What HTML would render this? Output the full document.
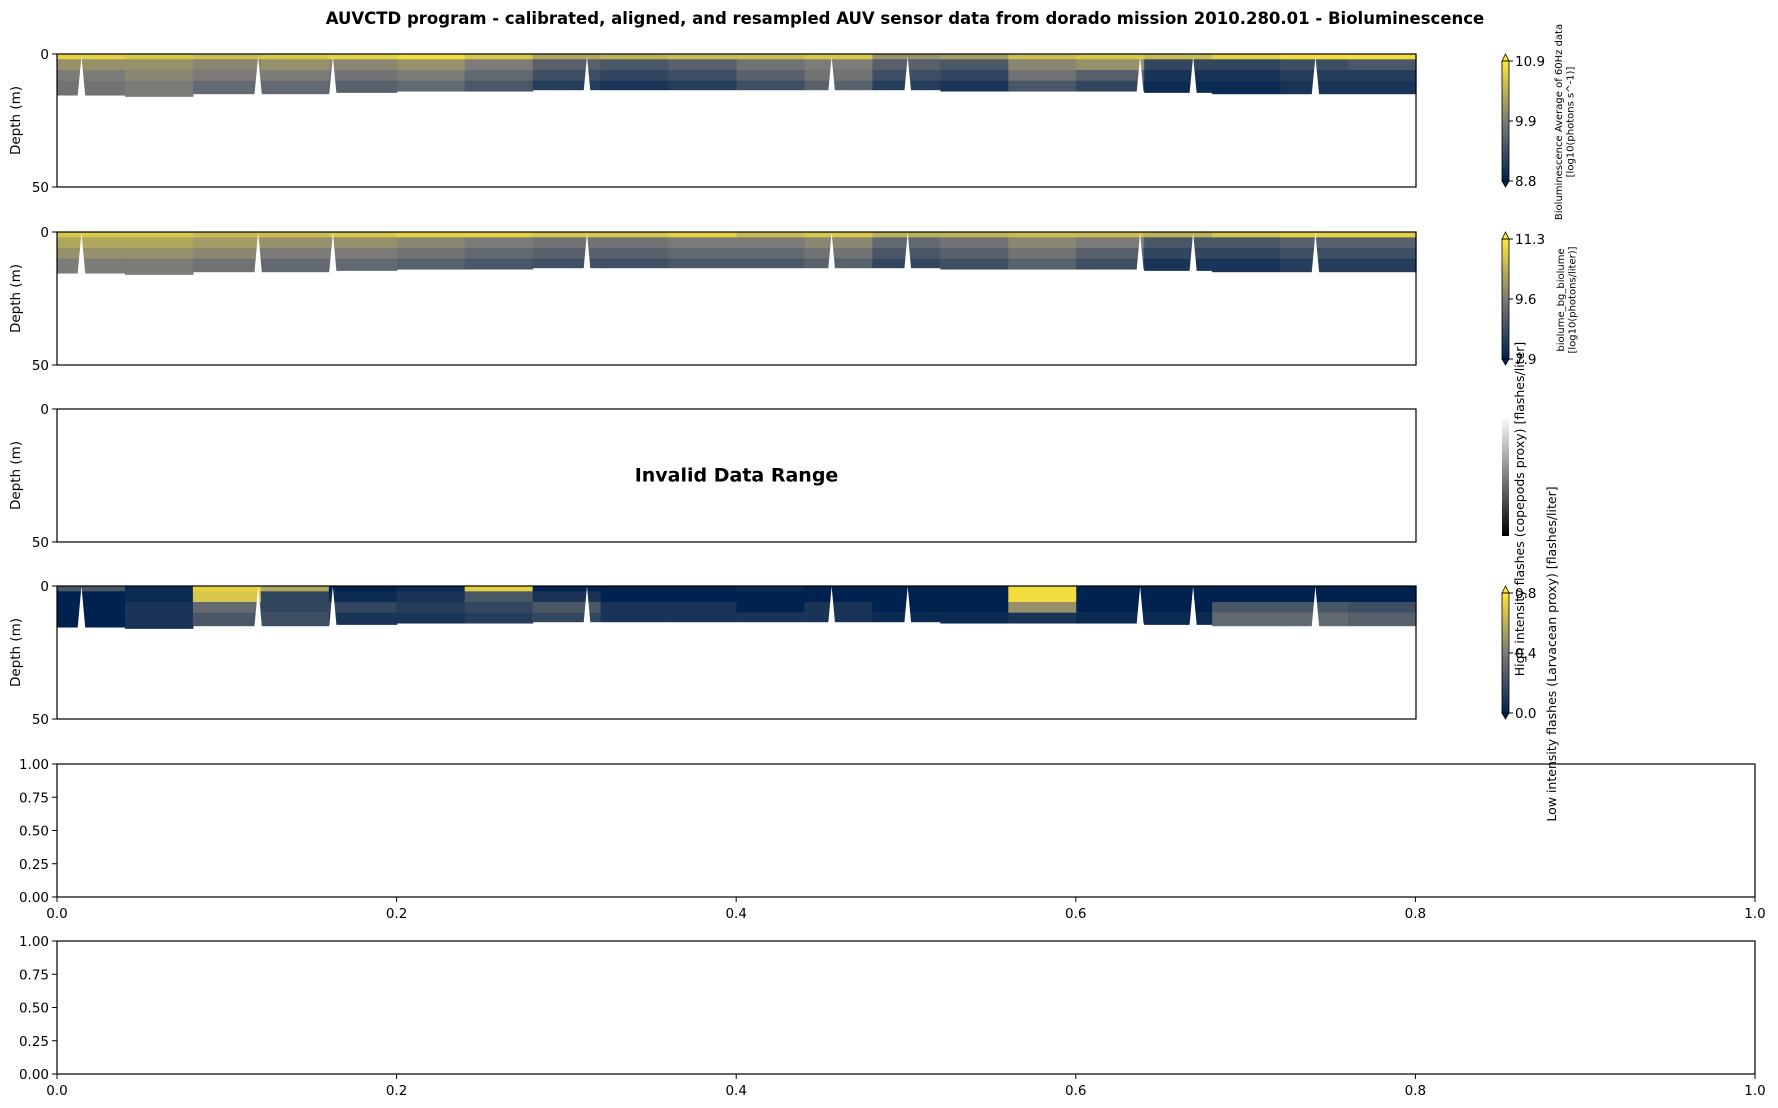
<!DOCTYPE html>
<html><head><meta charset="utf-8"><style>
body{margin:0;background:#fff}
svg{display:block;font-family:"DejaVu Sans","Liberation Sans",sans-serif}
</style></head><body>
<svg id="fig" width="1778" height="1108" viewBox="0 0 1778 1108" xmlns="http://www.w3.org/2000/svg">
<defs>
<linearGradient id="civ" x1="0" y1="1" x2="0" y2="0"><stop offset="0" stop-color="#00224e"/><stop offset="0.5" stop-color="#7c7b78"/><stop offset="1" stop-color="#fee838"/></linearGradient>
<linearGradient id="gry" x1="0" y1="1" x2="0" y2="0"><stop offset="0" stop-color="#000"/><stop offset="1" stop-color="#fff"/></linearGradient>
</defs>
<text x="905" y="24" text-anchor="middle" font-size="16.5" font-weight="bold">AUVCTD program - calibrated, aligned, and resampled AUV sensor data from dorado mission 2010.280.01 - Bioluminescence</text>
<g id="plots"></g>
</svg>
<script>
// column fractions along the section (20 columns) and depth layer boundaries (m)
const layerTops = [0, 2, 6, 10];
const bottomDepth = [15.5,16,15,15,14.5,14,14,13.5,13.5,13.5,13.5,13.5,13.5,14,14,14,14.5,15,15,15];
const spikes = [0.018,0.148,0.203,0.390,0.570,0.626,0.797,0.836,0.926];
// panel 1: bioluminescence avg (normalized 0..1 of colour range), rows top→bottom
const p1r0=[0.9,0.85,0.8,0.85,0.9,0.95,0.85,0.7,0.75,0.8,0.8,0.85,0.6,0.65,0.8,0.85,0.8,0.9,0.95,0.95];
const p1r1=[0.6,0.6,0.55,0.6,0.55,0.6,0.5,0.35,0.3,0.35,0.45,0.5,0.35,0.3,0.55,0.6,0.2,0.2,0.25,0.3];
const p1r2=[0.5,0.55,0.5,0.5,0.45,0.5,0.4,0.25,0.2,0.25,0.35,0.45,0.25,0.2,0.45,0.35,0.1,0.1,0.15,0.15];
const p1r3=[0.45,0.5,0.4,0.4,0.35,0.4,0.3,0.15,0.1,0.15,0.25,0.35,0.15,0.1,0.3,0.2,0.05,0.05,0.1,0.1];
// panel 2: biolume_bg
const p2r0=[0.85,0.85,0.8,0.8,0.85,0.9,0.9,0.85,0.85,0.9,0.8,0.85,0.75,0.75,0.8,0.8,0.75,0.85,0.9,0.9];
const p2r1=[0.7,0.7,0.65,0.6,0.6,0.55,0.5,0.45,0.45,0.5,0.5,0.55,0.4,0.45,0.55,0.5,0.3,0.3,0.35,0.35];
const p2r2=[0.6,0.6,0.55,0.5,0.5,0.45,0.4,0.35,0.35,0.4,0.4,0.45,0.3,0.35,0.45,0.35,0.2,0.2,0.25,0.25];
const p2r3=[0.5,0.5,0.45,0.4,0.4,0.35,0.3,0.25,0.25,0.3,0.3,0.35,0.2,0.25,0.35,0.25,0.1,0.1,0.15,0.15];
// panel 4: low intensity flashes
const p4r0=[0.3,0.05,0.9,0.7,0.0,0.05,0.9,0.0,0.0,0.0,0.05,0.0,0.0,0.0,0.95,0.0,0.0,0.0,0.0,0.0];
const p4r1=[0.0,0.05,0.85,0.2,0.05,0.1,0.3,0.1,0.0,0.0,0.0,0.0,0.0,0.0,0.95,0.0,0.0,0.0,0.0,0.0];
const p4r2=[0.0,0.1,0.4,0.2,0.2,0.15,0.2,0.3,0.1,0.1,0.0,0.1,0.0,0.0,0.6,0.0,0.0,0.3,0.3,0.25];
const p4r3=[0.0,0.1,0.3,0.25,0.1,0.1,0.15,0.2,0.1,0.1,0.1,0.1,0.05,0.05,0.1,0.05,0.05,0.4,0.4,0.35];
const depthTicks=[0,50];
const cb1Ticks=["10.9","9.9","8.8"], cb2Ticks=["11.3","9.6","7.9"], cb4Ticks=["0.8","0.4","0.0"];
const fracTicks=["0.0","0.2","0.4","0.6","0.8","1.0"];
const yFracTicks=["1.00","0.75","0.50","0.25","0.00"];

const NS="http://www.w3.org/2000/svg";
const G=document.getElementById('plots');
function mk(tag,attrs,parent,txt){const e=document.createElementNS(NS,tag);for(const k in attrs)e.setAttribute(k,attrs[k]);if(txt!==undefined)e.textContent=txt;(parent||G).appendChild(e);return e;}
function civ(t){t=Math.max(0,Math.min(1,t));const a=[0,34,78],b=[124,123,120],c=[254,232,56];let p,q,u;if(t<0.5){p=a;q=b;u=t*2}else{p=b;q=c;u=(t-0.5)*2}return `rgb(${p.map((v,i)=>Math.round(v+(q[i]-v)*u)).join(',')})`;}

const AX0=57, AX1=1416, FULLX1=1755;
const tops=[54,232,409,586,764,941], H=133;

function depthPanel(idx,rows,name){
  const top=tops[idx];
  const xs=f=>AX0+f*(AX1-AX0);
  const ys=d=>top+d/50*H;
  const g=mk('g',{},G);
  
  
  if(rows){
    const n=rows[0].length;
    for(let c=0;c<n;c++){
      for(let r=0;r<rows.length;r++){
        const d0=layerTops[r], d1=r<rows.length-1?layerTops[r+1]:bottomDepth[c];
        const rc=mk('rect',{x:xs(c/n),y:ys(d0),width:xs((c+1)/n)-xs(c/n)+0.6,height:ys(d1)-ys(d0)+0.3,fill:civ(rows[r][c])},g);
        
        
      }
    }
    spikes.forEach(f=>{const x=xs(f);const sp=mk('polygon',{points:`${x-4},${ys(16.5)} ${x},${ys(idx==0?1:0.2)} ${x+4},${ys(16.5)}`,fill:'#fff'},g);
      
      });
  }
  const fr=mk('rect',{x:AX0,y:top,width:AX1-AX0,height:H,fill:'none',stroke:'#000','stroke-width':1.2},g);
  
  
  depthTicks.forEach(d=>{const y=ys(d);mk('line',{x1:AX0-5,x2:AX0,y1:y,y2:y,stroke:'#000'},g);
    const t=mk('text',{x:AX0-8,y:y+5,'text-anchor':'end','font-size':13.5},g,String(d));
    
    });
  const yl=mk('text',{x:0,y:0,transform:`translate(20,${top+H/2}) rotate(-90)`,'text-anchor':'middle','font-size':13.5},g,'Depth (m)');
  
  
  return g;
}
function colorbar(idx,ticks,grad,arrows,name){
  const top=tops[idx];const y0=top+7,y1=top+H-6;const x0=1502,w=7;
  const g=mk('g',{},G);
  
  
  mk('rect',{x:x0,y:y0,width:w,height:y1-y0,fill:`url(#${grad})`},g);
  if(arrows){
    mk('polygon',{points:`${x0},${y0} ${x0+w/2},${top} ${x0+w},${y0}`,fill:'#fee838',stroke:'#000','stroke-width':0.8},g);
    mk('polygon',{points:`${x0},${y1} ${x0+w/2},${top+H} ${x0+w},${y1}`,fill:'#00224e',stroke:'#000','stroke-width':0.8},g);
    mk('rect',{x:x0,y:y0,width:w,height:y1-y0,fill:'none',stroke:'#000','stroke-width':0.8},g);
  }
  ticks.forEach((t,i)=>{const y=y0+i*(y1-y0)/(ticks.length-1);
    mk('line',{x1:x0+w,x2:x0+w+4,y1:y,y2:y,stroke:'#000'},g);
    const tx=mk('text',{x:x0+w+6,y:y+5,'font-size':13.5},g,t);
    
    });
  return g;
}
depthPanel(0,[p1r0,p1r1,p1r2,p1r3],'bioluminescence-avg-panel');
depthPanel(1,[p2r0,p2r1,p2r2,p2r3],'biolume-bg-panel');
depthPanel(2,null,'high-intensity-flashes-panel');
depthPanel(3,[p4r0,p4r1,p4r2,p4r3],'low-intensity-flashes-panel');
const inv=mk('text',{x:(AX0+AX1)/2,y:tops[2]+H/2+6,'text-anchor':'middle','font-size':19,'font-weight':'bold'},G,'Invalid Data Range');


colorbar(0,cb1Ticks,'civ',true,'colorbar-bioluminescence');
colorbar(1,cb2Ticks,'civ',true,'colorbar-biolume-bg');
colorbar(2,[],'gry',false,'colorbar-high-intensity');
colorbar(3,cb4Ticks,'civ',true,'colorbar-low-intensity');

function rotLabel(x,y,lines,fs,name){
  const t=mk('text',{transform:`translate(${x},${y}) rotate(-90)`,'text-anchor':'middle','font-size':fs},G);
  
  
  lines.forEach((l,i)=>mk('tspan',{x:0,dy:i?fs*1.15:0},t,l));
}
rotLabel(1562,122,['Bioluminescence Average of 60Hz data','[log10(photons s^-1)]'],10,'colorbar-label-bioluminescence');
rotLabel(1564,300,['biolume_bg_biolume','[log10(photons/liter)]'],10,'colorbar-label-biolume-bg');
rotLabel(1524,509,['High intensity flashes (copepods proxy) [flashes/liter]'],12.5,'colorbar-label-high-intensity');
rotLabel(1556,654,['Low intensity flashes (Larvacean proxy) [flashes/liter]'],12.5,'colorbar-label-low-intensity');

[4,5].forEach(i=>{
  const top=tops[i];
  const g=mk('g',{},G);
  
  
  mk('rect',{x:AX0,y:top,width:FULLX1-AX0,height:H,fill:'none',stroke:'#000','stroke-width':1.2},g);
  fracTicks.forEach((t,k)=>{const x=AX0+k/(fracTicks.length-1)*(FULLX1-AX0);
    mk('line',{x1:x,x2:x,y1:top+H,y2:top+H+5,stroke:'#000'},g);
    const tx=mk('text',{x:x,y:top+H+21,'text-anchor':'middle','font-size':13.5},g,t);
    
    });
  yFracTicks.forEach((t,k)=>{const y=top+k/(yFracTicks.length-1)*H;
    mk('line',{x1:AX0-5,x2:AX0,y1:y,y2:y,stroke:'#000'},g);
    const tx=mk('text',{x:AX0-8,y:y+5,'text-anchor':'end','font-size':13.5},g,t);
    
    });
});
</script>
</body></html>
